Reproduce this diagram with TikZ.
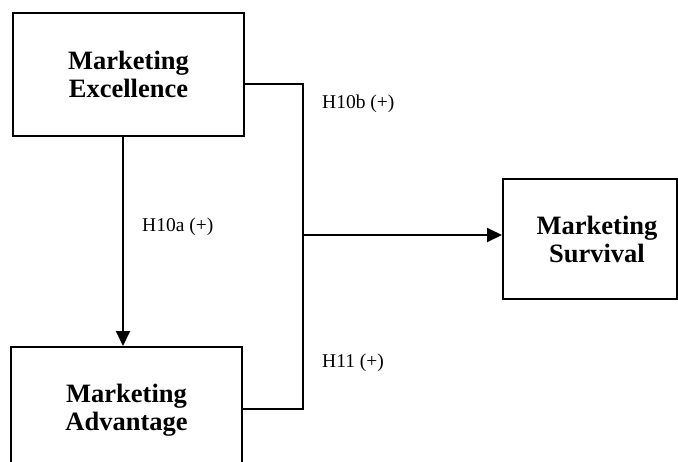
\documentclass[tikz,border=0pt]{standalone}
\usepackage{fontspec}
\setmainfont{Liberation Serif}
\usetikzlibrary{arrows.meta}
\begin{document}
\begin{tikzpicture}[x=1pt,y=-1pt,
  concept/.style={draw,line width=2pt,rectangle,align=center,inner sep=0pt,
    font=\fontsize{26.5}{28}\selectfont\bfseries},
  link/.style={line width=2pt},
  effect/.style={link,-{Triangle[length=15pt,width=14pt]}},
  hyp/.style={anchor=base west,inner sep=0pt,font=\fontsize{19.5}{22}\selectfont}]
\useasboundingbox (0,0) rectangle (678,461);
\clip (0,0) rectangle (678,461);
% constructs
\node[concept,minimum width=231pt,minimum height=123pt] (ME) at (128.5,74.5) {Marketing\\Excellence};
\node[concept,minimum width=231pt,minimum height=126pt] (MA) at (126.5,410) {Marketing\\Advantage};
\node[concept,minimum width=174pt,minimum height=120pt] (MS) at (590,239)
  {\hspace*{14pt}Marketing\\\hspace*{14pt}Survival};
% junction points of the joint path
\coordinate (jt) at (303,84);
\coordinate (jm) at (303,235);
\coordinate (jb) at (303,409);
\coordinate (ax) at (123,0);
% paths
\draw[effect] (ME.south -| ax) -- (MA.north -| ax);
\draw[link] (ME.east |- jt) -- (jt) -- (jb) -- (MA.east |- jb);
\draw[effect] (jm) -- (MS.west |- jm);
% hypothesis labels
\node[hyp] (h10a) at (142,231) {H10a (+)};
\node[hyp] (h10b) at (322,108) {H10b (+)};
\node[hyp] (h11) at (322,367) {H11 (+)};
\end{tikzpicture}
\end{document}
